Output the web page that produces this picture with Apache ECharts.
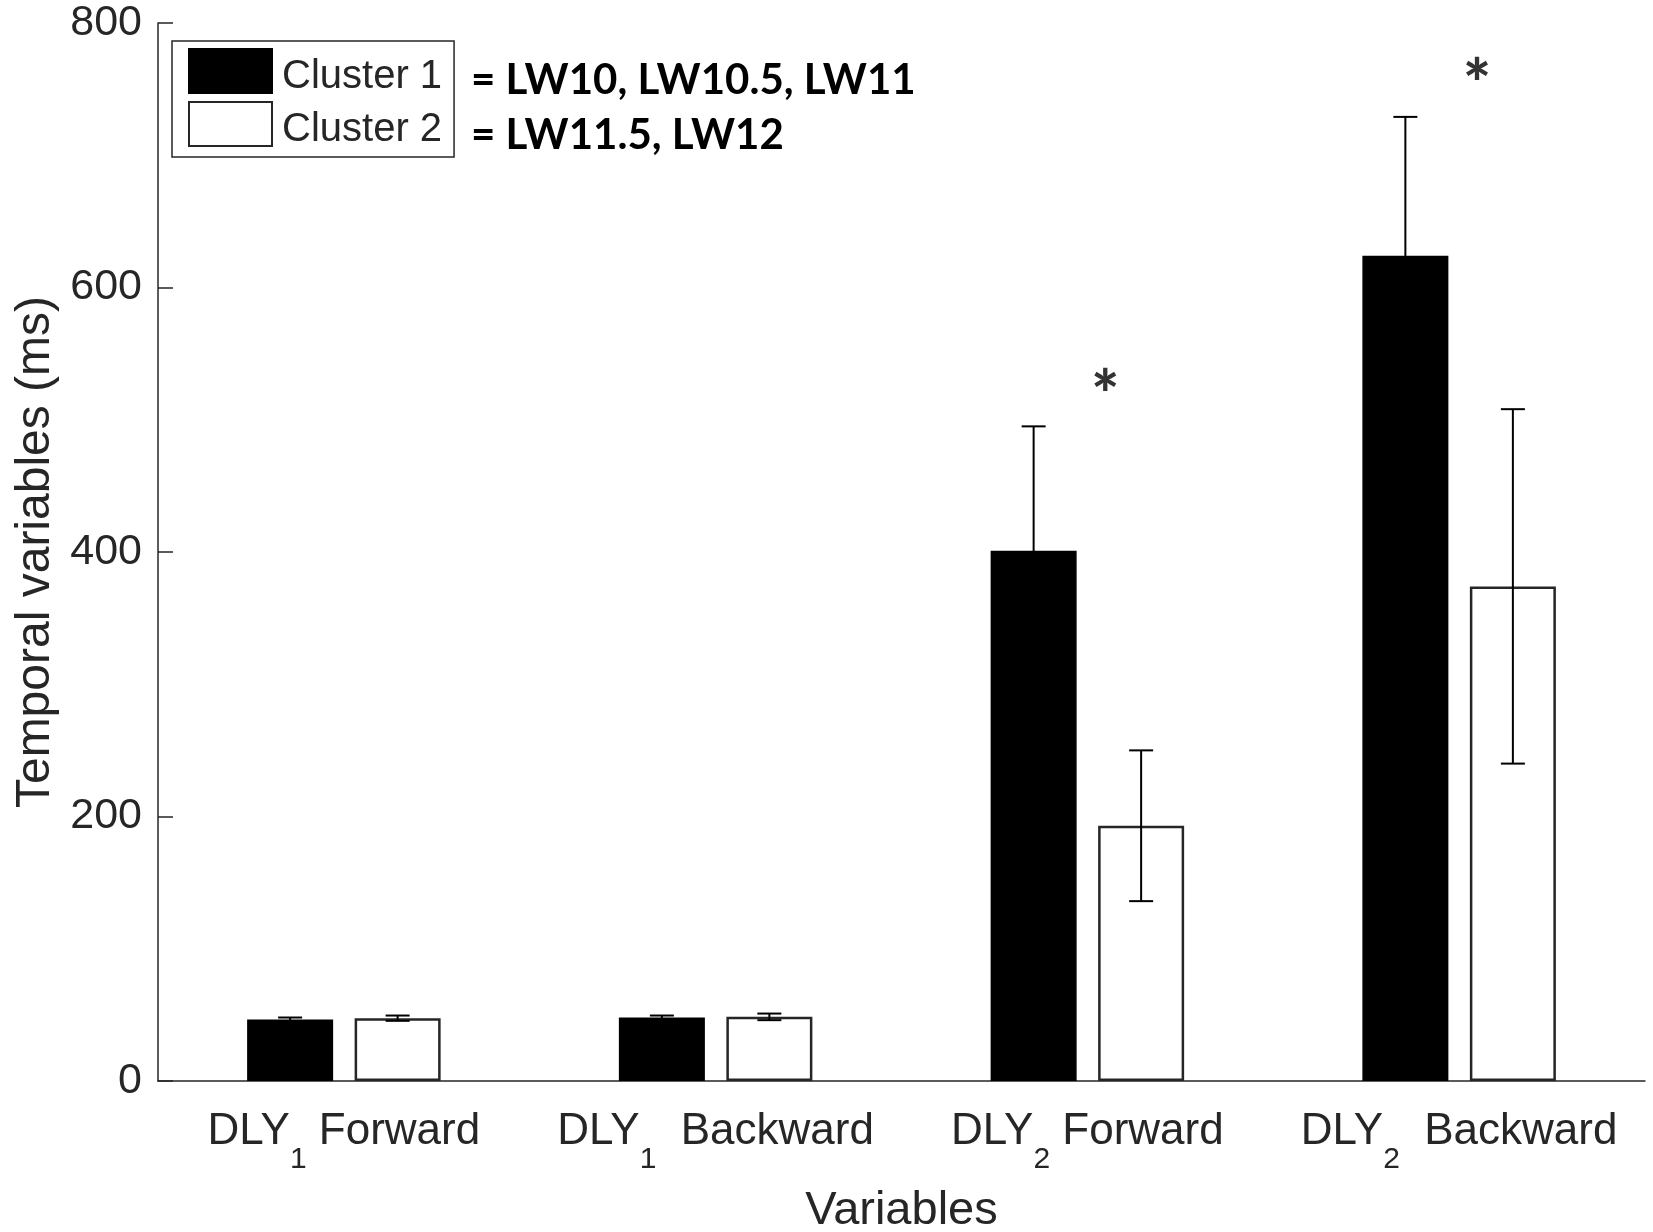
<!DOCTYPE html>
<html><head><meta charset="utf-8">
<script src="https://cdn.jsdelivr.net/npm/echarts@6/dist/echarts.min.js"></script>
<style>html,body{margin:0;padding:0;background:#fff}#c{width:1653px;height:1232px}</style>
</head><body><div id="c"></div>
<script>
// ---- data ----
const catMain = ['DLY', 'DLY', 'DLY', 'DLY'];
const catSub = ['1', '1', '2', '2'];
const catRest = ['Forward', ' Backward', 'Forward', ' Backward'];
const seriesNames = ['Cluster 1', 'Cluster 2'];
const cluster1 = [46.5, 48, 401, 624];
const cluster1Err = [1.5, 1.5, 94, 105];
const cluster2 = [47.5, 48.5, 193, 374];
const cluster2Err = [2, 2.5, 57, 134];
const yMin = 0, yMax = 800, yStep = 200;
const noteLines = ['= LW10, LW10.5, LW11', '= LW11.5, LW12'];
const sigCats = [2, 3];
const sigVals = [517, 752];

// ---- style ----
const INK = '#262626';
const FONT = "'Liberation Sans', Arial, sans-serif";
const BAR_W = 86, BAR_GAP = 0.25;
const OFFSET = BAR_W * (1 + BAR_GAP) / 2;
const categories = catMain.map((m, i) => m + catSub[i] + ' ' + catRest[i]);

function errSeries(vals, errs, sign) {
  return {
    type: 'custom', silent: true, z: 10,
    data: vals.map((v, i) => [i, v, errs[i]]),
    renderItem: function (params, api) {
      const i = api.value(0), v = api.value(1), e = api.value(2);
      const c = api.coord([i, v]);
      const hi = api.coord([i, v + e]);
      const lo = api.coord([i, v - e]);
      const x = c[0] + sign * OFFSET;
      const cw = 12;
      const st = { stroke: '#000', lineWidth: 2 };
      return { type: 'group', children: [
        { type: 'line', shape: { x1: x, y1: hi[1], x2: x, y2: lo[1] }, style: st },
        { type: 'line', shape: { x1: x - cw, y1: hi[1], x2: x + cw, y2: hi[1] }, style: st },
        { type: 'line', shape: { x1: x - cw, y1: lo[1], x2: x + cw, y2: lo[1] }, style: st }
      ] };
    }
  };
}

const chart = echarts.init(document.getElementById('c'), null, { renderer: 'canvas' });
chart.setOption({
  backgroundColor: '#fff',
  animation: false,
  textStyle: { fontFamily: FONT },
  grid: { left: 158, right: 8, top: 23, bottom: 151, containLabel: false, outerBoundsMode: 'none' },
  legend: {
    data: seriesNames, orient: 'vertical', left: 172, top: 41,
    padding: [7, 12, 7, 16], itemGap: 4, itemWidth: 83, itemHeight: 44,
    icon: 'rect', borderColor: INK, borderWidth: 1.5,
    formatter: '{t|{name}}',
    textStyle: { fontSize: 40, color: INK, fontFamily: FONT,
      rich: { t: { fontSize: 40, height: 30, lineHeight: 30, color: INK, fontFamily: FONT, padding: [12, 0, 0, 5] } } }
  },
  xAxis: {
    type: 'category', data: categories,
    axisLine: { lineStyle: { color: INK, width: 1.5 } },
    axisTick: { inside: true, length: 15, alignWithLabel: true, lineStyle: { color: INK, width: 1.5 } },
    axisLabel: {
      margin: 8, color: INK,
      formatter: function (v, idx) { return '{m|' + catMain[idx] + '}{s|' + catSub[idx] + '}{m| ' + catRest[idx] + '}'; },
      rich: {
        m: { fontSize: 44, color: INK, fontFamily: FONT },
        s: { fontSize: 30, color: INK, fontFamily: FONT, padding: [56, 0, 0, 0] }
      }
    },
    name: 'Variables', nameLocation: 'middle', nameGap: 107,
    nameTextStyle: { fontSize: 47, color: INK, fontFamily: FONT }
  },
  yAxis: {
    type: 'value', min: yMin, max: yMax, interval: yStep,
    axisLine: { show: true, lineStyle: { color: INK, width: 1.5 } },
    axisTick: { show: true, inside: true, length: 15, lineStyle: { color: INK, width: 1.5 } },
    splitLine: { show: false },
    axisLabel: { fontSize: 43, color: INK, margin: 16, fontFamily: FONT },
    name: 'Temporal variables (ms)', nameLocation: 'middle', nameGap: 95, nameRotate: 90,
    nameTextStyle: { fontSize: 48, color: INK, fontFamily: FONT }
  },
  series: [
    { name: seriesNames[0], type: 'bar', data: cluster1, barWidth: BAR_W, barGap: (BAR_GAP * 100) + '%',
      itemStyle: { color: '#000', borderColor: '#000', borderWidth: 1.5 } },
    { name: seriesNames[1], type: 'bar', data: cluster2, barWidth: BAR_W, barGap: (BAR_GAP * 100) + '%',
      itemStyle: { color: '#fff', borderColor: INK, borderWidth: 2.5 } },
    errSeries(cluster1, cluster1Err, -1),
    errSeries(cluster2, cluster2Err, 1),
    { type: 'scatter', silent: true, symbolSize: 0, z: 11,
      data: sigCats.map((c, i) => [c, sigVals[i]]),
      label: { show: true, position: 'inside', formatter: '*', offset: [18, 0],
        fontSize: 66, fontWeight: 900, color: '#000', fontFamily: 'Lato, sans-serif' } }
  ],
  graphic: [
    { type: 'text', left: 471, top: 59, style: { text: noteLines[0], font: "bold 42px Lato, sans-serif", fill: '#000' } },
    { type: 'text', left: 471, top: 114, style: { text: noteLines[1], font: "bold 42px Lato, sans-serif", fill: '#000' } }
  ]
});
</script></body></html>
